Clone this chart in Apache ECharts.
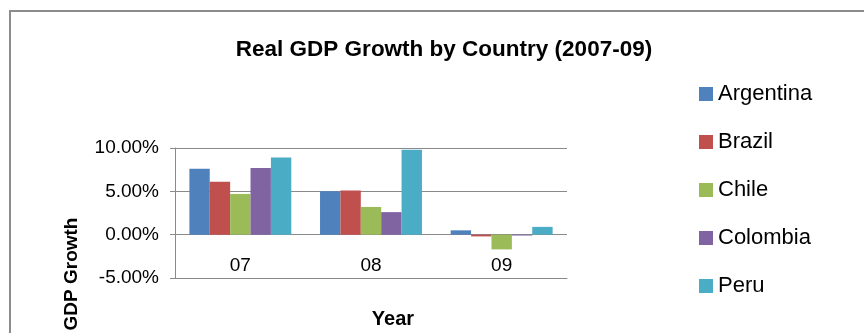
<!DOCTYPE html>
<html>
<head>
<meta charset="utf-8">
<script src="https://cdn.jsdelivr.net/npm/echarts@6/dist/echarts.min.js"></script>
<style>
html, body { margin: 0; padding: 0; background: #fff; overflow: hidden; }
#chart { width: 864px; height: 333px; }
</style>
</head>
<body>
<div id="chart"></div>
<script>
// 年份分类
const years = ['07', '08', '09'];
const yTicks = { min: -5, max: 10, interval: 5 };

// 各国实际GDP增长率(%)
const argentina = [7.6, 5.0, 0.5];
const brazil = [6.1, 5.1, -0.2];
const chile = [4.7, 3.2, -1.7];
const colombia = [7.7, 2.6, -0.1];
const peru = [8.9, 9.8, 0.9];

const countries = ['Argentina', 'Brazil', 'Chile', 'Colombia', 'Peru'];
const values = [argentina, brazil, chile, colombia, peru];
const colors = ['#4F81BD', '#C0504D', '#9BBB59', '#8064A2', '#4BACC6'];

const font = '"Liberation Sans", Arial, sans-serif';

let chart = echarts.init(document.getElementById('chart'));
let option = {
    backgroundColor: '#fff',
    animation: false,
    textStyle: { fontFamily: font },
    title: {
        text: 'Real GDP Growth by Country (2007-09)',
        left: 444,
        textAlign: 'center',
        top: 38,
        padding: 0,
        textStyle: {
            fontFamily: font,
            fontSize: 22.5,
            fontWeight: 'bold',
            color: '#000'
        }
    },
    graphic: [{
        type: 'rect',
        z: -1,
        shape: { x: 10, y: 11, width: 900, height: 400 },
        style: { fill: 'none', stroke: '#8c8c8c', lineWidth: 2 }
    }],
    legend: {
        orient: 'vertical',
        left: 699,
        top: 82,
        padding: 0,
        itemWidth: 14,
        itemHeight: 14,
        itemGap: 24,
        icon: 'rect',
        textStyle: {
            fontFamily: font,
            fontSize: 22,
            lineHeight: 24,
            color: '#000'
        },
        data: countries
    },
    grid: {
        left: 175,
        right: 297,
        top: 148,
        bottom: 55,
        containLabel: false,
        outerBoundsMode: 'none'
    },
    xAxis: {
        type: 'category',
        data: years,
        name: 'Year',
        nameLocation: 'middle',
        nameGap: 31,
        nameTextStyle: {
            fontFamily: font,
            fontSize: 20,
            fontWeight: 'bold',
            color: '#000',
            padding: [0, 0, 0, 44]
        },
        // 标签放在0线下方
        axisLine: { show: true, onZero: false, lineStyle: { color: '#8a8a8a' } },
        axisTick: { show: false },
        axisLabel: {
            margin: -22,
            fontFamily: font,
            fontSize: 19,
            color: '#000'
        }
    },
    yAxis: {
        type: 'value',
        min: yTicks.min,
        max: yTicks.max,
        interval: yTicks.interval,
        name: 'GDP Growth',
        nameLocation: 'middle',
        nameRotate: 90,
        nameGap: 94,
        nameTextStyle: {
            fontFamily: font,
            fontSize: 19,
            fontWeight: 'bold',
            color: '#000',
            padding: [0, 122, 0, 0]
        },
        axisLine: { show: true, lineStyle: { color: '#8a8a8a' } },
        axisTick: { show: true, length: 5, lineStyle: { color: '#8a8a8a' } },
        splitLine: { show: true, lineStyle: { color: '#8a8a8a' } },
        axisLabel: {
            margin: 16,
            fontFamily: font,
            fontSize: 19,
            color: '#000',
            formatter: v => v.toFixed(2) + '%'
        }
    },
    series: countries.map((name, i) => ({
        name: name,
        type: 'bar',
        barGap: '0%',
        barCategoryGap: '22%',
        itemStyle: { color: colors[i] },
        data: values[i]
    }))
};
chart.setOption(option);
window.addEventListener('resize', () => { chart.resize(); });
</script>
</body>
</html>
